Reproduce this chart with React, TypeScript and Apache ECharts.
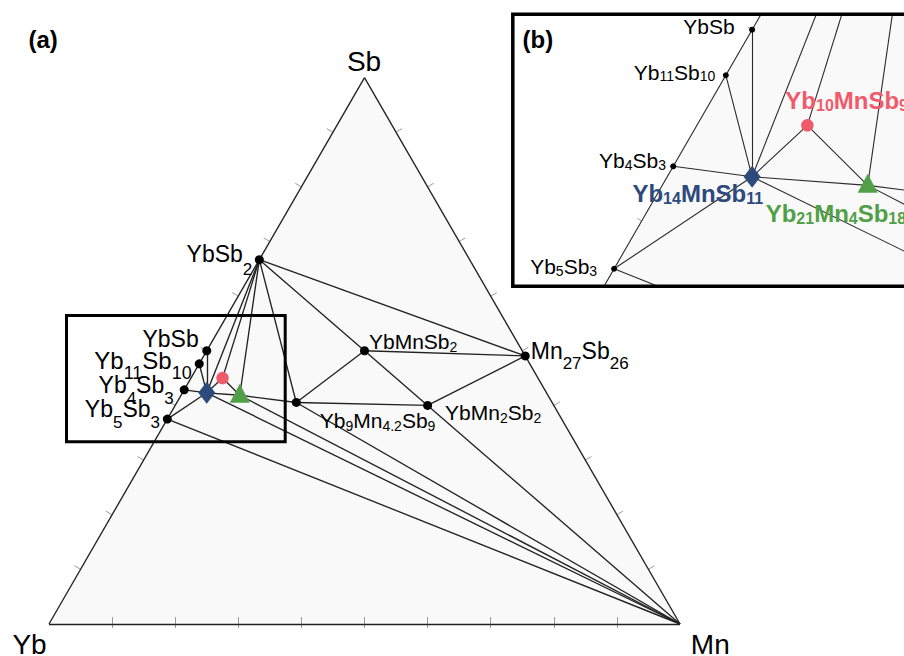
import React, { useEffect, useRef } from 'react';
import * as echarts from 'echarts';

const SQ = Math.sqrt(3) / 2;
const FONT = '"Liberation Sans", Arial, Helvetica, sans-serif';

// Compositions are atoms of [Yb, Mn, Sb]
const vertexNames = ['Yb', 'Mn', 'Sb'];
const vertexComps = [[1, 0, 0], [0, 1, 0], [0, 0, 1]];

const compoundNames = ['YbSb2', 'YbSb', 'Yb11Sb10', 'Yb4Sb3', 'Yb5Sb3', 'Mn27Sb26', 'YbMnSb2', 'YbMn2Sb2', 'Yb9Mn4.2Sb9'];
const compoundComps = [[1, 0, 2], [1, 0, 1], [11, 0, 10], [4, 0, 3], [5, 0, 3], [0, 27, 26], [1, 1, 2], [1, 2, 2], [9, 4.2, 9]];

const phaseNames = ['Yb14MnSb11', 'Yb10MnSb9', 'Yb21Mn4Sb18'];
const phaseComps = [[14, 1, 11], [10, 1, 9], [21, 4, 18]];
const phaseSymbols = ['diamond', 'circle', 'triangle'];
const phaseColors = ['#2d4a7c', '#f05a6b', '#51a048'];

const edgePairs = [['Yb', 'Mn'], ['Mn', 'Sb'], ['Sb', 'Yb']];
const tiePairs = [
  ['YbSb2', 'Mn27Sb26'], ['YbSb2', 'YbMnSb2'], ['YbSb2', 'Yb9Mn4.2Sb9'], ['YbSb2', 'Yb21Mn4Sb18'],
  ['YbSb2', 'Yb10MnSb9'], ['YbSb2', 'Yb14MnSb11'], ['YbMnSb2', 'Mn27Sb26'], ['YbMnSb2', 'YbMn2Sb2'],
  ['YbMnSb2', 'Yb9Mn4.2Sb9'], ['Yb9Mn4.2Sb9', 'YbMn2Sb2'], ['YbMn2Sb2', 'Mn27Sb26'], ['YbMn2Sb2', 'Mn'],
  ['Yb9Mn4.2Sb9', 'Mn'], ['Yb21Mn4Sb18', 'Yb9Mn4.2Sb9'], ['Yb21Mn4Sb18', 'Mn'], ['Yb14MnSb11', 'Yb21Mn4Sb18'],
  ['Yb14MnSb11', 'Mn'], ['Yb14MnSb11', 'Yb10MnSb9'], ['Yb10MnSb9', 'Yb21Mn4Sb18'], ['Yb14MnSb11', 'YbSb'],
  ['Yb14MnSb11', 'Yb11Sb10'], ['Yb14MnSb11', 'Yb4Sb3'], ['Yb14MnSb11', 'Yb5Sb3'], ['Yb5Sb3', 'Mn'],
];

const tickFractions = [0.1, 0.2, 0.3, 0.4, 0.5, 0.6, 0.7, 0.8, 0.9];

// ---- styles (not data) ----
type LS = { align: string; dx: number; dy: number; M: number; S: number; d: number; bold?: boolean; color?: string };
const mainLabelStyles: Record<string, LS> = {
  YbSb2: { align: 'right', dx: -7, dy: -5.5, M: 23, S: 17, d: 13 },
  YbSb: { align: 'right', dx: -8, dy: -12, M: 23, S: 17, d: 11 },
  Yb11Sb10: { align: 'right', dx: -7.5, dy: -3.7, M: 24, S: 18, d: 11 },
  Yb4Sb3: { align: 'right', dx: -10.5, dy: -5.3, M: 23, S: 17, d: 11.5 },
  Yb5Sb3: { align: 'right', dx: -7.3, dy: -10.4, M: 23, S: 17, d: 12 },
  Mn27Sb26: { align: 'left', dx: 5.5, dy: -4.7, M: 23, S: 17, d: 10 },
  YbMnSb2: { align: 'left', dx: 4.5, dy: -9, M: 21, S: 14, d: 3 },
  YbMn2Sb2: { align: 'left', dx: 17.5, dy: 7.4, M: 21, S: 14, d: 2.5 },
  'Yb9Mn4.2Sb9': { align: 'left', dx: 23.5, dy: 17.7, M: 21, S: 14, d: 3 },
};
const insetLabelStyles: Record<string, LS> = {
  YbSb: { align: 'right', dx: -17.5, dy: -2.7, M: 21, S: 14, d: 2 },
  Yb11Sb10: { align: 'right', dx: -10.5, dy: -3.2, M: 21, S: 14, d: 2 },
  Yb4Sb3: { align: 'right', dx: -7.3, dy: -5.8, M: 21, S: 14, d: 2 },
  Yb5Sb3: { align: 'right', dx: -17, dy: -2.7, M: 21, S: 14, d: 2 },
  Yb14MnSb11: { align: 'right', dx: 11, dy: 16.6, M: 24, S: 16, d: 2.5, bold: true, color: phaseColors[0] },
  Yb10MnSb9: { align: 'left', dx: -22, dy: -25.3, M: 24, S: 16, d: 2.5, bold: true, color: phaseColors[1] },
  Yb21Mn4Sb18: { align: 'left', dx: -102, dy: 30.3, M: 24, S: 16, d: 2.5, bold: true, color: phaseColors[2] },
};
const vertexLabelStyles: Record<string, { dx: number; dy: number }> = {
  Yb: { dx: -19.5, dy: 20 },
  Mn: { dx: 30.3, dy: 20 },
  Sb: { dx: -0.5, dy: -16.2 },
};

// ---- helpers ----
const allComps: Record<string, number[]> = {};
vertexNames.forEach((n, i) => (allComps[n] = vertexComps[i]));
compoundNames.forEach((n, i) => (allComps[n] = compoundComps[i]));
phaseNames.forEach((n, i) => (allComps[n] = phaseComps[i]));

function toUV(c: number[]) {
  const s = c[0] + c[1] + c[2];
  const fMn = c[1] / s;
  const fSb = c[2] / s;
  return [fMn + 0.5 * fSb, SQ * fSb];
}

function parts(name: string): [string, boolean][] {
  const out: [string, boolean][] = [];
  const re = /([A-Z][a-z]?)([\d.]*)/g;
  let m: RegExpExecArray | null;
  while ((m = re.exec(name))) {
    out.push([m[1], false]);
    if (m[2]) out.push([m[2], true]);
  }
  return out;
}

function richLabel(name: string, st: LS) {
  const L = 30;
  const P = 2 * st.d + 0.693 * (st.M - st.S);
  const color = st.color || '#000';
  const fw = st.bold ? 'bold' : 'normal';
  return {
    show: true,
    position: 'inside',
    align: st.align,
    verticalAlign: 'middle',
    offset: [st.dx, st.dy],
    color,
    opacity: 1,
    textBorderWidth: 0,
    formatter: parts(name).map(([t, s]) => `{${s ? 's' : 'm'}|${t}}`).join(''),
    rich: {
      m: { fontSize: st.M, fontFamily: FONT, fontWeight: fw, color, lineHeight: L, textBorderWidth: 0 },
      s: { fontSize: st.S, fontFamily: FONT, fontWeight: fw, color, lineHeight: L, padding: [P, 0, 0, 0], textBorderWidth: 0 },
    },
  };
}

const K_IN = 2208.5;
const panels = [
  {
    grid: { left: 49, top: 624 - 631 * SQ, width: 631, height: 631 * SQ },
    x: [0, 1], y: [0, SQ], k: 631, clip: false,
    line: { color: '#222', width: 1.35 }, dot: 9, tickOut: 7, labels: mainLabelStyles, main: true,
  },
  {
    grid: { left: 515, top: 16, width: 389, height: 268.5 },
    x: [(515 - 200) / K_IN, (904 - 200) / K_IN], y: [(986 - 284.5) / K_IN, (986 - 16) / K_IN], k: K_IN, clip: true,
    line: { color: '#2b2b2b', width: 1.1 }, dot: 6, tickOut: 5, labels: insetLabelStyles, main: false,
  },
];

function buildOption() {
  const grids: any[] = [];
  const xAxes: any[] = [];
  const yAxes: any[] = [];
  const series: any[] = [];
  const triUV = vertexComps.map(toUV);

  panels.forEach((p, g) => {
    grids.push({ ...p.grid, containLabel: false, show: false });
    xAxes.push({ type: 'value', gridIndex: g, min: p.x[0], max: p.x[1], show: false });
    yAxes.push({ type: 'value', gridIndex: g, min: p.y[0], max: p.y[1], show: false });
    const ax = { xAxisIndex: g, yAxisIndex: g };

    // triangle fill
    series.push({
      type: 'custom', ...ax, clip: p.clip, silent: true, z: 1,
      data: [[triUV[0][0], triUV[0][1]]],
      renderItem: (_params: any, api: any) => ({
        type: 'polygon',
        shape: { points: triUV.map((q) => api.coord(q)) },
        style: { fill: '#f9f9f9', stroke: 'none' },
      }),
    });

    // ticks
    const tk: any[] = [];
    const out = p.tickOut / p.k;
    tickFractions.forEach((f) => {
      if (p.main) tk.push({ coords: [[f, 7 / p.k], [f, -4 / p.k]] });
      const lb = [0.5 * f, SQ * f];
      tk.push({ coords: [lb, [lb[0] - SQ * out, lb[1] + 0.5 * out]] });
      const rb = [1 - 0.5 * f, SQ * f];
      tk.push({ coords: [rb, [rb[0] + SQ * out, rb[1] + 0.5 * out]] });
    });
    series.push({
      type: 'lines', coordinateSystem: 'cartesian2d', ...ax, clip: p.clip, silent: true,
      lineStyle: { color: '#9a9a9a', width: 1, opacity: 1 }, data: tk,
    });

    // edges and tie lines
    const segs = [...edgePairs, ...tiePairs].map(([a, b]) => ({ coords: [toUV(allComps[a]), toUV(allComps[b])] }));
    series.push({
      type: 'lines', coordinateSystem: 'cartesian2d', ...ax, clip: p.clip, silent: true,
      lineStyle: { color: p.line.color, width: p.line.width, opacity: 1 }, data: segs,
    });

    // compound dots
    series.push({
      type: 'scatter', ...ax, clip: p.clip, silent: true,
      symbol: 'circle', symbolSize: p.dot, itemStyle: { color: '#000', opacity: 1 },
      data: compoundNames.map((n, i) => {
        const st = p.labels[n];
        return { name: n, value: toUV(compoundComps[i]), label: st ? richLabel(n, st) : { show: false } };
      }),
    });

    // highlighted phases
    phaseNames.forEach((n, i) => {
      const st = p.labels[n];
      series.push({
        type: 'scatter', ...ax, clip: p.clip, silent: true,
        symbol: phaseSymbols[i],
        symbolSize: phaseSymbols[i] === 'diamond' ? [17, 22] : phaseSymbols[i] === 'circle' ? 12.5 : [20, 19],
        symbolOffset: phaseSymbols[i] === 'triangle' ? [0, -2] : [0, 0],
        itemStyle: { color: phaseColors[i], opacity: 1 },
        data: [{ name: n, value: toUV(phaseComps[i]), label: st ? richLabel(n, st) : { show: false } }],
      });
    });

    // vertex labels
    if (p.main) {
      series.push({
        type: 'scatter', ...ax, clip: false, silent: true, symbolSize: 1,
        itemStyle: { color: 'rgba(0,0,0,0)', opacity: 1 },
        data: vertexNames.map((n, i) => ({
          name: n, value: toUV(vertexComps[i]),
          label: {
            show: true, position: 'inside', align: 'center', verticalAlign: 'middle',
            offset: [vertexLabelStyles[n].dx, vertexLabelStyles[n].dy],
            formatter: n, color: '#000', opacity: 1, fontSize: 28, fontFamily: FONT, textBorderWidth: 0,
          },
        })),
      });
    }
  });

  return {
    animation: false,
    backgroundColor: '#fff',
    title: [
      { text: '(a)', left: 28.5, top: 27.5, padding: 0, textStyle: { fontSize: 24, fontWeight: 'bold', color: '#000', fontFamily: FONT } },
      { text: '(b)', left: 522.5, top: 27, padding: 0, textStyle: { fontSize: 24, fontWeight: 'bold', color: '#000', fontFamily: FONT } },
    ],
    grid: grids,
    xAxis: xAxes,
    yAxis: yAxes,
    series,
    graphic: [
      { type: 'rect', z: 100, silent: true, shape: { x: 66.5, y: 315.5, width: 218.7, height: 126.3 }, style: { fill: 'none', stroke: '#000', lineWidth: 3 } },
      { type: 'rect', z: 100, silent: true, shape: { x: 512.8, y: 14.2, width: 420, height: 272 }, style: { fill: 'none', stroke: '#000', lineWidth: 3.5 } },
    ],
  };
}

export default function App() {
  const ref = useRef<HTMLDivElement>(null);
  useEffect(() => {
    if (!ref.current) return;
    const chart = echarts.init(ref.current, null, { renderer: 'svg' });
    chart.setOption(buildOption() as any);
    return () => chart.dispose();
  }, []);
  return <div ref={ref} style={{ position: 'absolute', left: 0, top: 0, width: 904, height: 656 }} />;
}
